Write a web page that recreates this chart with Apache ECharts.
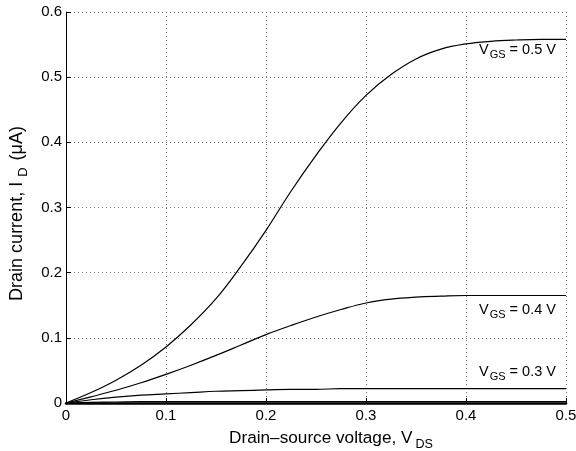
<!DOCTYPE html>
<html><head><meta charset="utf-8">
<script src="https://cdn.jsdelivr.net/npm/echarts@6/dist/echarts.min.js"></script>
<style>html,body{margin:0;padding:0;background:#fff}#c{width:576px;height:451px}</style>
</head><body><div id="c"></div>
<script>
const vds = [0,0.025,0.05,0.075,0.1,0.125,0.15,0.175,0.2,0.225,0.25,0.275,0.3,0.325,0.35,0.375,0.4,0.425,0.45,0.475,0.5];
const id05 = [0,0.016,0.035,0.058,0.086,0.12,0.16,0.21,0.265,0.325,0.38,0.43,0.472,0.504,0.528,0.543,0.551,0.555,0.557,0.558,0.558];
const id04 = [0,0.0095,0.0195,0.031,0.044,0.058,0.073,0.089,0.105,0.119,0.132,0.1435,0.1535,0.1595,0.1625,0.164,0.165,0.165,0.165,0.165,0.165];
const id03 = [0,0.005,0.009,0.012,0.014,0.016,0.018,0.019,0.02,0.021,0.021,0.022,0.022,0.022,0.022,0.022,0.022,0.022,0.022,0.022,0.022];
const id02 = [0,0.001,0.0015,0.002,0.002,0.002,0.002,0.002,0.002,0.002,0.002,0.002,0.002,0.002,0.002,0.002,0.002,0.002,0.002,0.002,0.002];
const curveLabels = ['0.5 V','0.4 V','0.3 V'];
const labelSides = ['bottom','bottom','top'];
const labelDist = [0,4,6];
const xTicks = [0,0.1,0.2,0.3,0.4,0.5];
const yTicks = [0,0.1,0.2,0.3,0.4,0.5,0.6];

const FONT = 'Liberation Sans, Arial, sans-serif';
const richLbl = {
  n:{fontFamily:FONT,fontSize:14.5,color:'#000'},
  s:{fontFamily:FONT,fontSize:11,color:'#000',padding:[10,0,0,1]}
};
const richX = {
  n:{fontFamily:FONT,fontSize:17.2,color:'#000'},
  s:{fontFamily:FONT,fontSize:12.6,color:'#000',padding:[13,0,0,3]}
};
const richY = {
  n:{fontFamily:FONT,fontSize:18,color:'#000'},
  s:{fontFamily:FONT,fontSize:13,color:'#000',padding:[13,2,0,5]}
};
function pairs(ys){return vds.map((x,i)=>[x,ys[i]]);}
function lineSeries(ys,label,side,dist){
  const s = {type:'line',data:pairs(ys),smooth:0.4,showSymbol:false,symbol:'none',
    lineStyle:{color:'#000',width:1.2},silent:true,animation:false};
  if(label){
    s.markPoint={symbol:'circle',symbolSize:0,silent:true,animation:false,
      data:[{coord:[0.4515,ys[ys.length-1]],label:{show:true,position:side,distance:dist,
        formatter:'{n|V}{s|GS}{n| = '+label+'}',rich:richLbl}}]};
  }
  return s;
}
const chart = echarts.init(document.getElementById('c'),null,{renderer:'canvas'});
chart.setOption({
  animation:false,
  grid:{left:66,right:10,top:12,bottom:48,containLabel:false,outerBoundsMode:'none'},
  xAxis:{type:'value',min:0,max:0.5,interval:0.1,
    name:'{n|Drain\u2013source voltage, V}{s|DS}',nameLocation:'middle',nameGap:22,
    nameTextStyle:{rich:richX,padding:[0,0,0,30]},
    axisLine:{show:true,lineStyle:{color:'#000',width:2.5}},
    axisTick:{show:true,inside:true,length:5,lineStyle:{color:'#000'}},
    axisLabel:{fontFamily:FONT,fontSize:15,color:'#000',margin:5,
      formatter:v=>{const t=xTicks.find(t=>Math.abs(t-v)<1e-9);return t===undefined?'':String(t);}},
    splitLine:{show:true,lineStyle:{color:'#777',type:[1,3],width:1}}
  },
  yAxis:{type:'value',min:0,max:0.6,interval:0.1,
    name:'{n|Drain current, I}{s|D}{n| (\u03bcA)}',nameLocation:'middle',nameGap:34,
    nameTextStyle:{rich:richY,padding:[0,12,0,0]},
    axisLine:{show:true,lineStyle:{color:'#000',width:1}},
    axisTick:{show:true,inside:true,length:5,lineStyle:{color:'#000'}},
    axisLabel:{fontFamily:FONT,fontSize:15,color:'#000',margin:4,
      formatter:v=>{const t=yTicks.find(t=>Math.abs(t-v)<1e-9);return t===undefined?'':String(t);}},
    splitLine:{show:true,lineStyle:{color:'#777',type:[1,3],width:1}}
  },
  series:[lineSeries(id05,curveLabels[0],labelSides[0],labelDist[0]),lineSeries(id04,curveLabels[1],labelSides[1],labelDist[1]),lineSeries(id03,curveLabels[2],labelSides[2],labelDist[2]),lineSeries(id02,null,null,0)]
});
</script></body></html>
